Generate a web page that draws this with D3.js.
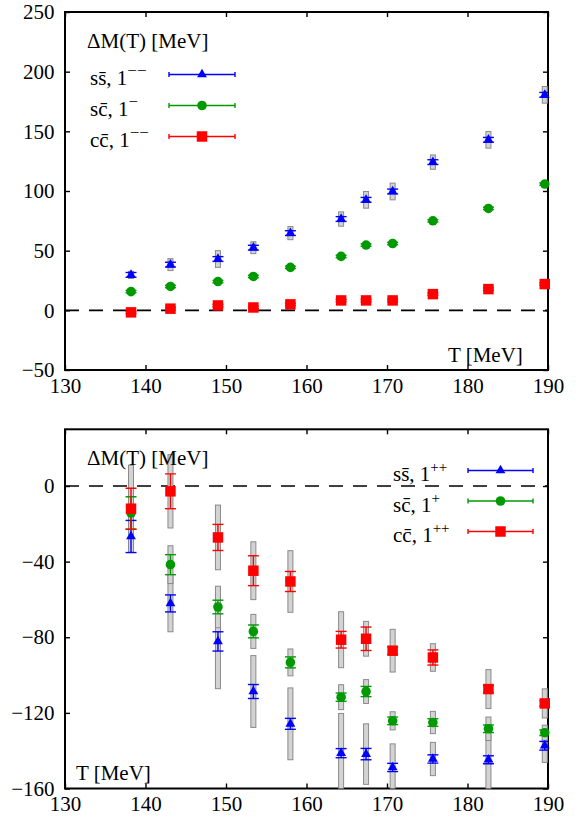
<!DOCTYPE html>
<html>
<head>
<meta charset="utf-8">
<script src="https://cdn.jsdelivr.net/npm/d3@7"></script>
<style>
  html, body { margin: 0; padding: 0; background: #fff; }
  svg, svg text, svg tspan { font-family: "Liberation Serif", "DejaVu Serif", serif !important; }
</style>
</head>
<body>
<svg id="chart" width="579" height="817"></svg>
<script>
// Lattice temperatures (MeV)
const temperatures = [138.2, 143.1, 149.0, 153.4, 158.0, 164.3, 167.4, 170.7, 175.7, 182.6, 189.6];
const xTicks = [130, 140, 150, 160, 170, 180, 190];

// Vector channel: mass shift ΔM(T) in MeV, statistical and systematic errors
const vectorTicks = [-50, 0, 50, 100, 150, 200, 250];
const ssVector     = [29.7, 38.3, 43.0, 52.5, 64.7, 76.5, 92.6, 99.6, 124.2, 142.9, 180.6];
const ssVectorStat = [2, 2, 2, 2, 2, 2, 2, 2, 2, 2, 2];
const ssVectorSys  = [3, 5, 7, 5, 5.5, 6, 7, 7, 6, 7, 7];
const scVector     = [15.7, 20.0, 24.1, 28.4, 36.0, 45.2, 54.7, 56.0, 75.0, 85.4, 105.8];
const scVectorStat = [1, 1, 1, 1, 1, 1, 1, 1, 1, 1, 1];
const scVectorSys  = [1.5, 1.5, 1.5, 1.5, 1.5, 1.5, 1.5, 1.5, 1.5, 1.5, 1.5];
const ccVector     = [-1.7, 1.4, 4.1, 2.4, 5.0, 8.3, 8.3, 8.3, 13.6, 17.8, 22.0];
const ccVectorStat = [1, 1, 1, 1, 1, 1, 1, 1, 1, 1, 1];
const ccVectorSys  = [1.5, 1.5, 1.5, 1.5, 1.5, 1.5, 1.5, 1.5, 1.5, 1.5, 1.5];

// Axial-vector channel
const axialTicks = [-160, -120, -80, -40, 0];
const ssAxial     = [-26.7, -62.1, -82.2, -108.7, -125.8, -141.3, -141.8, -148.9, -144.4, -144.8, -137.4];
const ssAxialStat = [8.5, 4.5, 5.1, 3.7, 2.9, 2.4, 3.0, 2.2, 2.2, 2.1, 2.3];
const ssAxialSys  = [8, 15, 25, 19, 19, 21, 16, 12.5, 8.8, 16, 8.8];
const scAxial     = [-14.3, -41.6, -64.0, -76.9, -93.3, -111.7, -108.7, -124.2, -125.1, -128.4, -130.5];
const scAxialStat = [8.6, 5.3, 3.6, 3.4, 2.9, 2.2, 2.7, 2.0, 2.0, 2.0, 1.5];
const scAxialSys  = [15, 10, 11, 9, 7.1, 6.6, 6.3, 4.8, 5.9, 6.2, 4];
const ccAxial     = [-12.0, -2.8, -27.2, -44.8, -50.5, -81.3, -80.8, -87.1, -90.7, -107.4, -115.0];
const ccAxialStat = [10.8, 9.2, 6.9, 7.9, 5.3, 4.4, 6.2, 2.0, 4.0, 2.0, 1.5];
const ccAxialSys  = [23, 19.4, 17.1, 15.3, 16.3, 14.8, 9.2, 11.3, 7.3, 10.3, 7.7];

// Legend texts: [base, superscript]
const vectorLabels = [["ss\u0304, 1", "\u2212\u2212"], ["sc\u0304, 1", "\u2212"], ["cc\u0304, 1", "\u2212\u2212"]];
const axialLabels  = [["ss\u0304, 1", "++"], ["sc\u0304, 1", "+"], ["cc\u0304, 1", "++"]];

const yLabel = "\u0394M(T) [MeV]";
const xLabel = "T [MeV]";

const colors = { ss: "#0000ff", sc: "#009a00", cc: "#ff0000" };
const shapes = { ss: d3.symbolTriangle, sc: d3.symbolCircle, cc: d3.symbolSquare };
const sizes  = { ss: 42, sc: 72, cc: 110 };

const svg = d3.select("#chart");
const FONT = 21;
const FAMILY = "'Liberation Serif', 'DejaVu Serif', serif";

const x = d3.scaleLinear().domain([130, 190]).range([65, 548]);

function drawPanel(cfg, idx) {
  const y = d3.scaleLinear().domain(cfg.domain).range(cfg.range);
  const g = svg.append("g").attr("font-family", FAMILY);
  const [x0, x1] = x.range();
  const [yb, yt] = cfg.range;

  const clipId = "clip" + idx;
  g.append("clipPath").attr("id", clipId)
    .append("rect").attr("x", x0).attr("y", yt).attr("width", x1 - x0).attr("height", yb - yt);

  // zero line
  g.append("line")
    .attr("x1", x0).attr("x2", x1).attr("y1", y(0)).attr("y2", y(0))
    .attr("stroke", "#000").attr("stroke-width", 1.6).attr("stroke-dasharray", "14,10");

  // axes with inward ticks
  const styleAxis = sel => {
    sel.attr("font-family", FAMILY);
    sel.select(".domain").remove();
    sel.selectAll(".tick line").attr("stroke", "#000").attr("stroke-width", 1.4);
    sel.selectAll("text").attr("fill", "#000").attr("font-size", FONT);
  };
  g.append("g").attr("transform", `translate(0,${yb})`)
    .call(d3.axisBottom(x).tickValues(xTicks).tickSize(-5).tickPadding(8).tickFormat(d3.format("d")))
    .call(styleAxis);
  g.append("g").attr("transform", `translate(0,${yt})`)
    .call(d3.axisTop(x).tickValues(xTicks).tickSize(-5).tickFormat(""))
    .call(styleAxis);
  g.append("g").attr("transform", `translate(${x0},0)`)
    .call(d3.axisLeft(y).tickValues(cfg.ticks).tickSize(-5).tickPadding(10.5).tickFormat(d3.format("d")))
    .call(styleAxis);
  g.append("g").attr("transform", `translate(${x1},0)`)
    .call(d3.axisRight(y).tickValues(cfg.ticks).tickSize(-5).tickFormat(""))
    .call(styleAxis);

  // frame
  g.append("rect").attr("x", x0).attr("y", yt).attr("width", x1 - x0).attr("height", yb - yt)
    .attr("fill", "none").attr("stroke", "#000").attr("stroke-width", 2);

  const data = g.append("g");
  const clipped = data.append("g").attr("clip-path", `url(#${clipId})`);

  // systematic boxes
  cfg.series.forEach(s => {
    clipped.append("g").selectAll("rect").data(temperatures).join("rect")
      .attr("x", d => x(d) - 2.5).attr("width", 5)
      .attr("y", (d, i) => y(s.values[i] + s.sys[i]))
      .attr("height", (d, i) => y(s.values[i] - s.sys[i]) - y(s.values[i] + s.sys[i]))
      .attr("fill", "#d3d3d3").attr("stroke", "#8a8a8a").attr("stroke-width", 1);
  });

  // statistical error bars and markers
  cfg.series.forEach(s => {
    const col = colors[s.key];
    const eb = clipped.append("g").attr("stroke", col).attr("stroke-width", 1.4);
    temperatures.forEach((t, i) => {
      const cx = x(t), lo = y(s.values[i] - s.stat[i]), hi = y(s.values[i] + s.stat[i]);
      eb.append("line").attr("x1", cx).attr("x2", cx).attr("y1", lo).attr("y2", hi);
      eb.append("line").attr("x1", cx - 5.5).attr("x2", cx + 5.5).attr("y1", lo).attr("y2", lo);
      eb.append("line").attr("x1", cx - 5.5).attr("x2", cx + 5.5).attr("y1", hi).attr("y2", hi);
    });
    data.append("g").selectAll("path").data(temperatures).join("path")
      .attr("d", d3.symbol().type(shapes[s.key]).size(sizes[s.key]))
      .attr("transform", (d, i) => `translate(${x(d)},${y(s.values[i])})`)
      .attr("fill", col);
  });

  // axis titles
  g.append("text").attr("x", cfg.yLabelPos[0]).attr("y", cfg.yLabelPos[1])
    .attr("font-size", FONT).text(yLabel);
  g.append("text").attr("x", cfg.xLabelPos[0]).attr("y", cfg.xLabelPos[1])
    .attr("font-size", FONT).text(xLabel);

  // legend
  cfg.series.forEach((s, i) => {
    const [base, sup] = cfg.labels[i];
    const by = cfg.legend.y0 + i * cfg.legend.dy;
    const t = g.append("text").attr("x", cfg.legend.tx).attr("y", by).attr("font-size", FONT);
    t.append("tspan").text(base);
    t.append("tspan").attr("dy", -9).attr("font-size", cfg.supSize).text(sup);
    const ly = by - 10.5;
    const col = colors[s.key];
    const lg = g.append("g").attr("stroke", col).attr("stroke-width", 1.4);
    lg.append("line").attr("x1", cfg.legend.l0).attr("x2", cfg.legend.l1).attr("y1", ly).attr("y2", ly);
    lg.append("line").attr("x1", cfg.legend.l0).attr("x2", cfg.legend.l0).attr("y1", ly - 2.5).attr("y2", ly + 2.5);
    lg.append("line").attr("x1", cfg.legend.l1).attr("x2", cfg.legend.l1).attr("y1", ly - 2.5).attr("y2", ly + 2.5);
    g.append("path").attr("d", d3.symbol().type(shapes[s.key]).size(sizes[s.key]))
      .attr("transform", `translate(${(cfg.legend.l0 + cfg.legend.l1) / 2},${ly})`)
      .attr("fill", col);
  });
}

drawPanel({
  domain: [-50, 250], range: [370, 12], ticks: vectorTicks,
  series: [
    { key: "ss", values: ssVector, stat: ssVectorStat, sys: ssVectorSys },
    { key: "sc", values: scVector, stat: scVectorStat, sys: scVectorSys },
    { key: "cc", values: ccVector, stat: ccVectorStat, sys: ccVectorSys }
  ],
  labels: vectorLabels, supSize: 17,
  legend: { tx: 90, y0: 85, dy: 31, l0: 169, l1: 235 },
  yLabelPos: [87, 48], xLabelPos: [448, 362]
}, 0);

drawPanel({
  domain: [-160, 30], range: [788.5, 429.3], ticks: axialTicks,
  series: [
    { key: "ss", values: ssAxial, stat: ssAxialStat, sys: ssAxialSys },
    { key: "sc", values: scAxial, stat: scAxialStat, sys: scAxialSys },
    { key: "cc", values: ccAxial, stat: ccAxialStat, sys: ccAxialSys }
  ],
  labels: axialLabels, supSize: 15,
  legend: { tx: 393, y0: 481, dy: 30.5, l0: 468, l1: 533 },
  yLabelPos: [87, 465], xLabelPos: [76, 780]
}, 1);
</script>
</body>
</html>
